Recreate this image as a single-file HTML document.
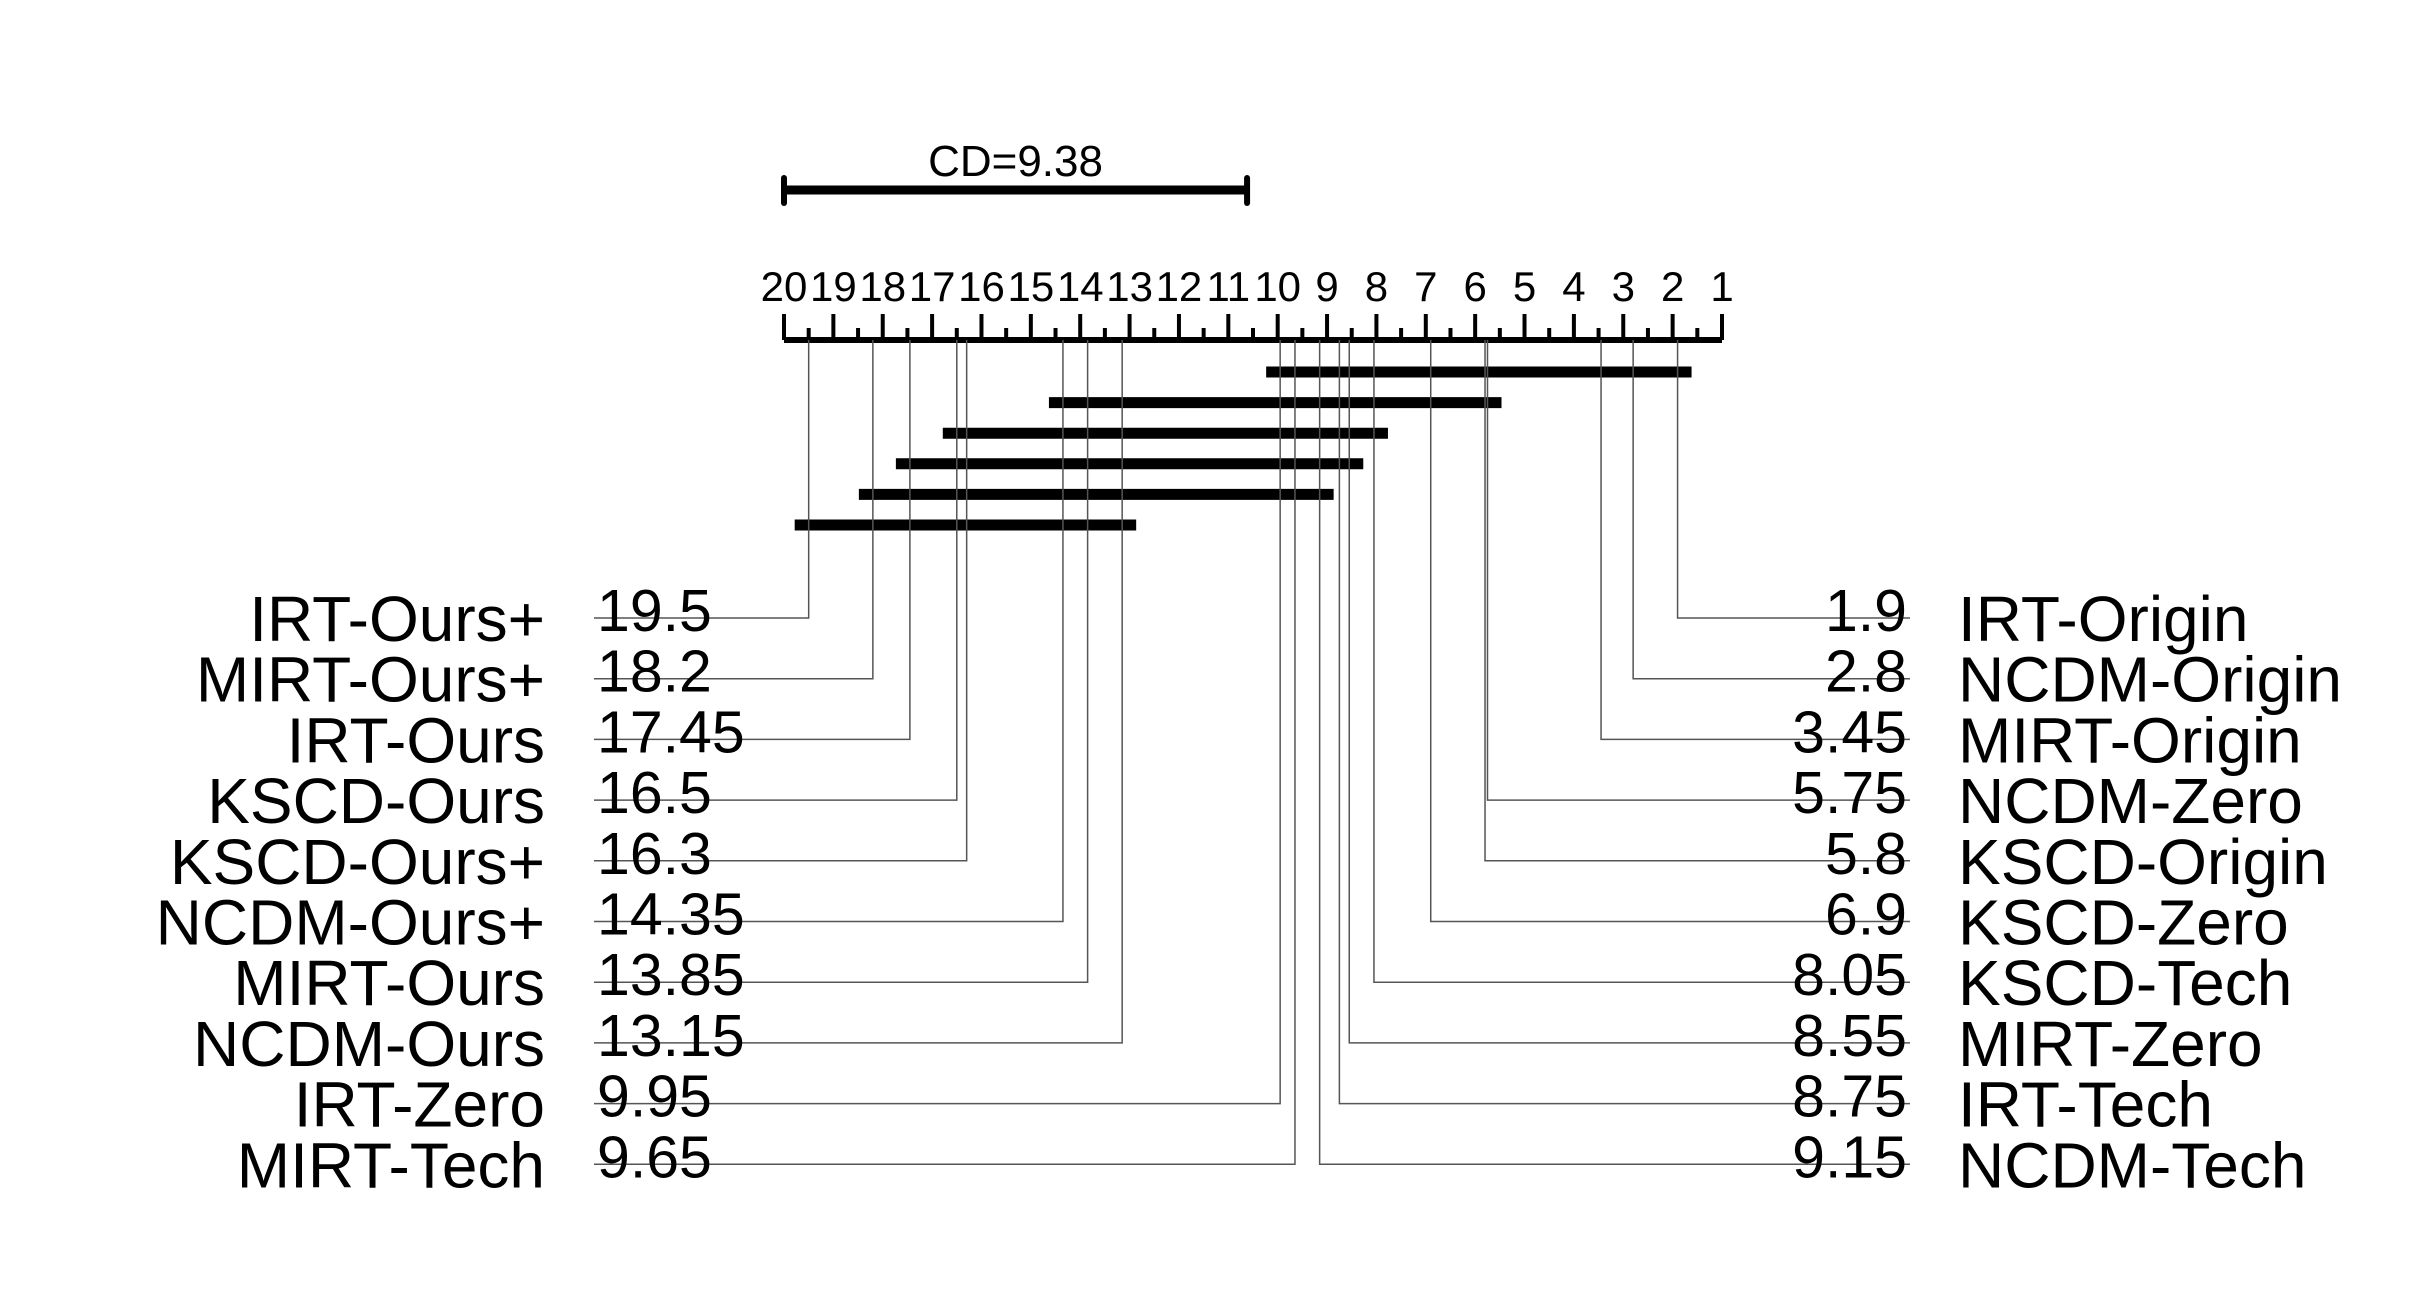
<!DOCTYPE html>
<html><head><meta charset="utf-8"><style>
html,body{margin:0;padding:0;background:#fff;}
svg{display:block;font-family:"Liberation Sans",Arial,sans-serif;}
</style></head><body>
<svg id="chart" width="2418" height="1310" viewBox="0 0 2418 1310" xmlns="http://www.w3.org/2000/svg"></svg>
<script>
const leftNames = ["IRT-Ours+","MIRT-Ours+","IRT-Ours","KSCD-Ours","KSCD-Ours+","NCDM-Ours+","MIRT-Ours","NCDM-Ours","IRT-Zero","MIRT-Tech"];
const leftRanks = [19.5,18.2,17.45,16.5,16.3,14.35,13.85,13.15,9.95,9.65];
const leftLabels = ["19.5","18.2","17.45","16.5","16.3","14.35","13.85","13.15","9.95","9.65"];
const rightNames = ["IRT-Origin","NCDM-Origin","MIRT-Origin","NCDM-Zero","KSCD-Origin","KSCD-Zero","KSCD-Tech","MIRT-Zero","IRT-Tech","NCDM-Tech"];
const rightRanks = [1.9,2.8,3.45,5.75,5.8,6.9,8.05,8.55,8.75,9.15];
const rightLabels = ["1.9","2.8","3.45","5.75","5.8","6.9","8.05","8.55","8.75","9.15"];
const cliqueLo = [1.9,5.75,8.05,8.55,9.15,13.15];
const cliqueHi = [9.95,14.35,16.5,17.45,18.2,19.5];
const cdValue = 9.38;
const tickRanks = [20,19,18,17,16,15,14,13,12,11,10,9,8,7,6,5,4,3,2,1];

const svg = document.getElementById('chart');
const NS = "http://www.w3.org/2000/svg";
const x = r => 784 + (20 - r) * (1722 - 784) / 19;
const axisY = 340;
const rowY = i => 618 + i * 60.7;
function el(tag, attrs, parent){const e=document.createElementNS(NS,tag);for(const k in attrs)e.setAttribute(k,attrs[k]);(parent||svg).appendChild(e);return e;}

// CD bar
let g = el('g',{});


el('line',{x1:x(20),x2:x(20-cdValue),y1:190,y2:190,stroke:'#000','stroke-width':9},g);
el('line',{x1:x(20),x2:x(20),y1:178,y2:203,stroke:'#000','stroke-width':6,'stroke-linecap':'round'},g);
el('line',{x1:x(20-cdValue),x2:x(20-cdValue),y1:178,y2:203,stroke:'#000','stroke-width':6,'stroke-linecap':'round'},g);
let t = el('text',{x:(x(20)+x(20-cdValue))/2,y:176,'font-size':44,'text-anchor':'middle'},g);
t.textContent = 'CD=' + cdValue;



// axis
const ax = el('g',{});


el('line',{x1:x(20),x2:x(1),y1:axisY,y2:axisY,stroke:'#000','stroke-width':6},ax);
for(let r=20;r>=1;r-=0.5){
  const major = Number.isInteger(r);
  el('line',{x1:x(r),x2:x(r),y1:major?314:328,y2:axisY,stroke:'#000','stroke-width':4},ax);
}
tickRanks.forEach(r=>{
  const tt = el('text',{x:x(r),y:301,'font-size':42,'text-anchor':'middle'},ax);
  tt.textContent = r;
  
  
});

// cliques
cliqueLo.forEach((lo,i)=>{
  const hi = cliqueHi[i];
  const c = el('line',{x1:x(hi)-14,x2:x(lo)+14,y1:372+i*30.6,y2:372+i*30.6,stroke:'#000','stroke-width':11});
  
  
});

// left methods
leftNames.forEach((n,i)=>{
  const y=rowY(i), xr=x(leftRanks[i]);
  const p = el('polyline',{points:`${xr},${axisY} ${xr},${y} 594,${y}`,fill:'none',stroke:'#555','stroke-width':1.5});
  
  
  const nm = el('text',{x:545,y:y+23,'font-size':64,'text-anchor':'end'});
  nm.textContent=n;
  
  
  const v = el('text',{x:597,y:y+13,'font-size':59});
  v.textContent=leftLabels[i];
  
  
});
// right methods
rightNames.forEach((n,i)=>{
  const y=rowY(i), xr=x(rightRanks[i]);
  const p = el('polyline',{points:`${xr},${axisY} ${xr},${y} 1910,${y}`,fill:'none',stroke:'#555','stroke-width':1.5});
  
  
  const nm = el('text',{x:1958,y:y+23,'font-size':64});
  nm.textContent=n;
  
  
  const v = el('text',{x:1907,y:y+13,'font-size':59,'text-anchor':'end'});
  v.textContent=rightLabels[i];
  
  
});
</script>
</body></html>
